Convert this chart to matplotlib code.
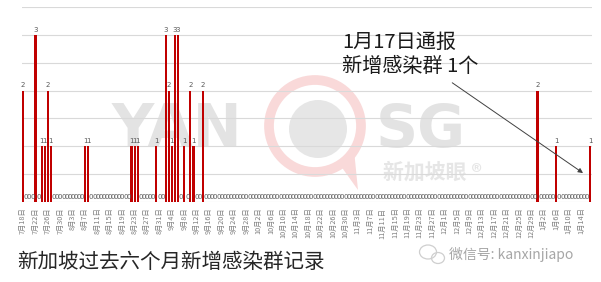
import numpy as np
import pandas as pd
import matplotlib
matplotlib.use("Agg")
import matplotlib.pyplot as plt
from matplotlib import patches, transforms

plt.rcParams['font.family'] = ['Noto Sans CJK SC', 'DejaVu Sans']

# ---- data ----
start_date = "2020-07-18"
end_date = "2021-01-17"
values = [
    2, 0, 0, 0, 3, 0, 1, 1, 2, 1,
    0, 0, 0, 0, 0, 0, 0, 0, 0, 0,
    1, 1, 0, 0, 0, 0, 0, 0, 0, 0,
    0, 0, 0, 0, 0, 1, 1, 1, 0, 0,
    0, 0, 0, 1, 0, 0, 3, 2, 1, 3,
    3, 0, 1, 0, 2, 1, 0, 0, 2, 0,
    0, 0, 0, 0, 0, 0, 0, 0, 0, 0,
    0, 0, 0, 0, 0, 0, 0, 0, 0, 0,
    0, 0, 0, 0, 0, 0, 0, 0, 0, 0,
    0, 0, 0, 0, 0, 0, 0, 0, 0, 0,
    0, 0, 0, 0, 0, 0, 0, 0, 0, 0,
    0, 0, 0, 0, 0, 0, 0, 0, 0, 0,
    0, 0, 0, 0, 0, 0, 0, 0, 0, 0,
    0, 0, 0, 0, 0, 0, 0, 0, 0, 0,
    0, 0, 0, 0, 0, 0, 0, 0, 0, 0,
    0, 0, 0, 0, 0, 0, 0, 0, 0, 0,
    0, 0, 0, 0, 0, 0, 2, 0, 0, 0,
    0, 0, 1, 0, 0, 0, 0, 0, 0, 0,
    0, 0, 0, 1,
]
dates = pd.date_range(start_date, end_date, freq="D")
categories = [f"{d.month}月{d.day}日" for d in dates]
tick_step = 4
title = "新加坡过去六个月新增感染群记录"
note_line1 = "1月17日通报"
note_line2 = "新增感染群 1个"
wechat = "微信号: kanxinjiapo"

W, H = 601, 282
fig = plt.figure(figsize=(W / 100, H / 100), dpi=100)
fig.patch.set_facecolor("white")

def fx(x):
    return x / W

def fy(y):
    return 1 - y / H

# pixel transform (top-left origin)
pix = transforms.Affine2D().scale(1, -1).translate(0, H)

# ---- watermark (under the axes) ----
wm_gray = "#e3e3e3"
wm_pink = "#f9d9d9"
fig.text(fx(112), fy(130), "YAN", fontsize=42, fontweight="bold", color=wm_gray,
         family="DejaVu Sans", va="center", ha="left", zorder=-5)
fig.text(fx(376), fy(130), "SG", fontsize=42, fontweight="bold", color=wm_gray,
         family="DejaVu Sans", va="center", ha="left", zorder=-5)
ring = patches.Circle((315, 126), 46, transform=pix, fill=False, lw=7,
                      edgecolor=wm_pink, zorder=-5)
fig.add_artist(ring)
tail = patches.Polygon([(338, 162), (358, 190), (354, 150)], closed=True,
                       transform=pix, facecolor=wm_pink, edgecolor="none", zorder=-5)
fig.add_artist(tail)
inner = patches.Circle((318, 129), 29, transform=pix, facecolor="#e6e6e6",
                       edgecolor="none", zorder=-5)
fig.add_artist(inner)
fig.text(fx(383), fy(172), "新加坡眼 ®", fontsize=15, fontweight="bold",
         color="#e6e6e6", va="center", ha="left", zorder=-5)

# ---- axes ----
ax = fig.add_axes([fx(21.5), fy(202), (591.7 - 21.5) / W, (202 - 7) / H])
ax.set_facecolor("none")
x = np.arange(len(values))
vals = np.array(values)
ax.bar(x, vals, width=0.7, color="#c00000", zorder=3)
ax.set_xlim(-0.5, len(values) - 0.5)
ax.set_ylim(0, 3.5)
ax.set_yticks(np.arange(0, 3.51, 0.5))
ax.yaxis.grid(True, color="#d9d9d9", lw=0.8)
ax.set_axisbelow(True)
ax.tick_params(axis="y", left=False, labelleft=False)
for s in ax.spines.values():
    s.set_visible(False)
ax.set_xticks(x[::tick_step])
ax.set_xticklabels(categories[::tick_step], rotation=90, fontsize=5.2,
                   color="#7f7f7f")
ax.tick_params(axis="x", length=0, pad=4)

for xi, v in zip(x, vals):
    ax.annotate(str(v), (xi, v), xytext=(0, 1.5), textcoords="offset points",
                ha="center", va="bottom", fontsize=5, color="#595959",
                family="DejaVu Sans", zorder=4)

# arrow
ax.annotate("", xy=(180.7, 0.52), xytext=(138.5, 2.14),
            arrowprops=dict(arrowstyle="-|>", color="#404040", lw=0.7,
                            mutation_scale=7, shrinkA=0, shrinkB=0))

# ---- texts ----
fig.text(fx(342), fy(42), note_line1, fontsize=14.5, color="#1a1a1a",
         va="center", ha="left")
fig.text(fx(342), fy(67), note_line2, fontsize=14.5, color="#1a1a1a",
         va="center", ha="left")
fig.text(fx(17), fy(262), title, fontsize=14.8, color="#262626",
         va="center", ha="left")

# wechat icon + id
fig.add_artist(patches.Ellipse((428, 252), 17, 14, transform=pix, fill=False,
                               edgecolor="#cfcfcf", lw=0.9))
fig.add_artist(patches.Ellipse((438, 258), 13, 11, transform=pix, fill=False,
                               edgecolor="#cfcfcf", lw=0.9))
fig.text(fx(449), fy(255), wechat, fontsize=10, color="#a6a6a6",
         va="center", ha="left")

fig.savefig("out.png", dpi=100)
